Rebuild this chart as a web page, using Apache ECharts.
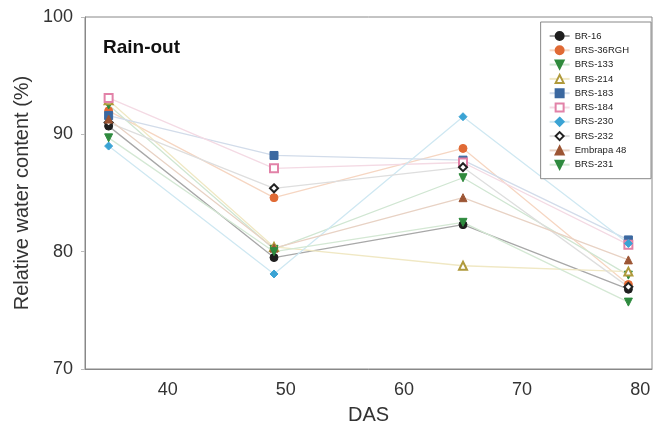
<!DOCTYPE html>
<html>
<head>
<meta charset="utf-8">
<script src="https://cdn.jsdelivr.net/npm/echarts@6/dist/echarts.min.js"></script>
<style>
  html, body { margin: 0; padding: 0; background: #fff; }
  #chart { width: 665px; height: 437px; }
</style>
</head>
<body>
<div id="chart"></div>
<script>
// days after sowing
const das = [35, 49, 65, 79]

const names = ['BR-16', 'BRS-36RGH', 'BRS-133', 'BRS-214', 'BRS-183', 'BRS-184', 'BRS-230', 'BRS-232', 'Embrapa 48', 'BRS-231']

const br16 = [90.7, 79.5, 82.3, 76.8]
const brs36 = [92.0, 84.6, 88.8, 77.2]
const brs133 = [92.5, 80.2, 86.3, 78.0]
const brs214 = [92.9, 80.4, 78.8, 78.3]
const brs183 = [91.6, 88.2, 87.8, 81.0]
const brs184 = [93.1, 87.1, 87.6, 80.6]
const brs230 = [89.0, 78.1, 91.5, 80.7]
const brs232 = [91.0, 85.4, 87.2, 77.0]
const embrapa48 = [91.3, 80.3, 84.6, 79.3]
const brs231 = [89.7, 80.0, 82.5, 75.7]

const values = [br16, brs36, brs133, brs214, brs183, brs184, brs230, brs232, embrapa48, brs231]

const markColors = ['#1e1e1e', '#e06a35', '#2f8a3c', '#b09a3c', '#3b68a0', '#e282a8', '#3aa3d4', '#222222', '#9c5534', '#2e8a3e']
const lineColors = ['#a8a8a8', '#f6d6c2', '#d0e6d2', '#f0e8c4', '#d2dcea', '#f4dae4', '#cfe8f2', '#dedede', '#e8d2c4', '#d4e8d4']
const symbols = ['circle', 'circle', 'triangle', 'emptyTriangle', 'rect', 'emptyRect', 'diamond', 'emptyDiamond', 'triangle', 'triangle']
const rotations = [0, 0, 180, 0, 0, 0, 0, 0, 0, 180]

const chart = echarts.init(document.getElementById('chart'))

const series = names.map((name, i) => ({
  name: name,
  type: 'line',
  data: das.map((d, j) => [d, values[i][j]]),
  symbol: symbols[i],
  symbolSize: 8,
  symbolRotate: rotations[i],
  showAllSymbol: true,
  lineStyle: { color: lineColors[i], width: 1.3 },
  itemStyle: { color: markColors[i], borderColor: markColors[i], borderWidth: 1 },
  emphasis: { disabled: true }
}))

const option = {
  animation: false,
  textStyle: { fontFamily: 'Liberation Sans, Arial, sans-serif' },
  grid: { left: 85, right: 13, top: 17, bottom: 68, show: true, borderColor: '#888', borderWidth: 1 },
  title: {
    text: 'Rain-out',
    left: 98, top: 33,
    textStyle: { fontSize: 19, fontWeight: 'bold', color: '#111' }
  },
  legend: {
    data: names,
    orient: 'vertical',
    right: 14, top: 22,
    padding: [9, 22, 9, 8],
    itemGap: 4.3,
    itemWidth: 20, itemHeight: 10,
    backgroundColor: '#fff',
    borderColor: '#888', borderWidth: 1,
    textStyle: { fontSize: 9.5, color: '#222' }
  },
  xAxis: {
    type: 'value',
    min: 33, max: 81,
    interval: 10,
    name: 'DAS',
    nameLocation: 'middle',
    nameGap: 36,
    nameTextStyle: { fontSize: 20, color: '#333' },
    axisLine: { lineStyle: { color: '#888' } },
    axisTick: { show: false },
    splitLine: { show: false },
    axisLabel: {
      fontSize: 18, color: '#333', margin: 12,
      customValues: [40, 50, 60, 70, 80]
    }
  },
  yAxis: {
    type: 'value',
    min: 70, max: 100,
    interval: 10,
    name: 'Relative water content (%)',
    nameLocation: 'middle',
    nameGap: 45,
    nameTextStyle: { fontSize: 20, color: '#333' },
    axisLine: { show: true, lineStyle: { color: '#888' } },
    axisTick: { show: true, length: 4, lineStyle: { color: '#bbb' } },
    splitLine: { show: false },
    axisLabel: { fontSize: 18, color: '#333', margin: 12 }
  },
  series: series
}

chart.setOption(option)
</script>
</body>
</html>
